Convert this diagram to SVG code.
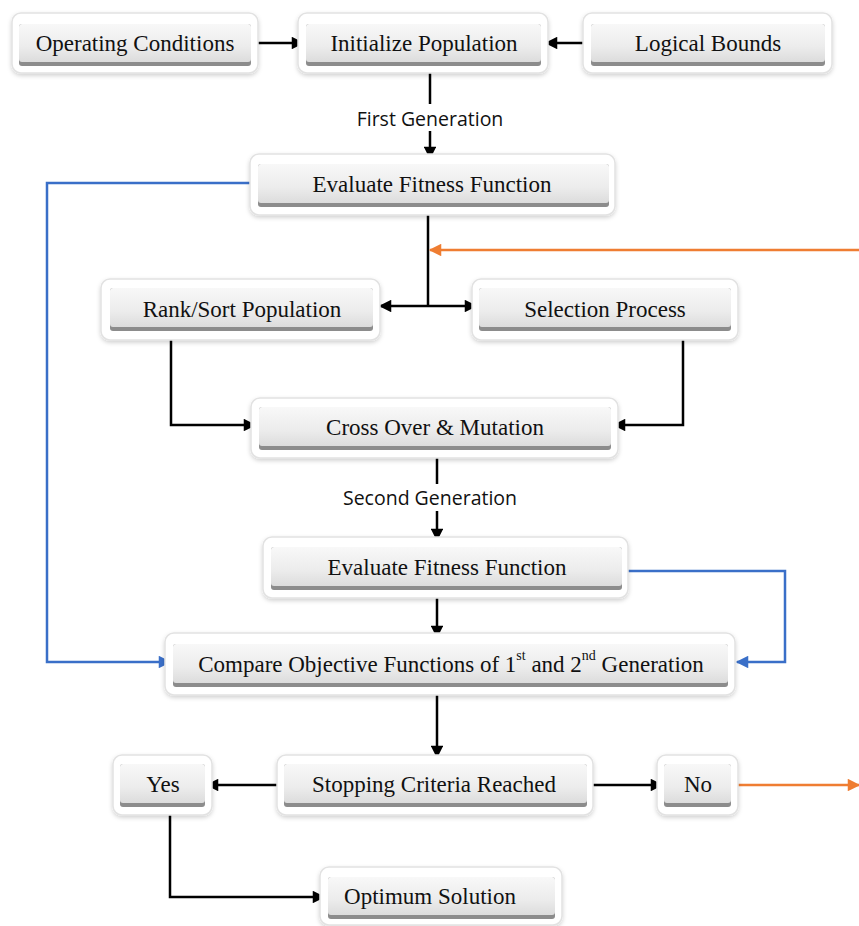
<svg xmlns="http://www.w3.org/2000/svg" width="859" height="926" viewBox="0 0 859 926">
<style>
.frame{fill:#fff;stroke:#e2e2e2;stroke-width:1.5;filter:url(#fs)}
.base{fill:#8c8c8c}
.btn{fill:url(#g)}
.t{font-family:"Liberation Serif","Times New Roman",serif;font-size:23px;fill:#111;text-anchor:middle;dominant-baseline:central}
.lab{font-family:"Open Sans","Liberation Sans",sans-serif;font-size:19.5px;fill:#111;text-anchor:middle;dominant-baseline:central}
.k{fill:none;stroke:#000;stroke-width:2.5;marker-end:url(#ak)}
.kn{fill:none;stroke:#000;stroke-width:2.5}
.b{fill:none;stroke:#3a6fc8;stroke-width:2.5;marker-end:url(#ab)}
.o{fill:none;stroke:#ef7d32;stroke-width:2.5;marker-end:url(#ao)}
</style>
<defs>
<linearGradient id="g" x1="0" y1="0" x2="0" y2="1">
<stop offset="0" stop-color="#f8f8f8"/>
<stop offset="0.6" stop-color="#ececec"/>
<stop offset="1" stop-color="#dcdcdc"/>
</linearGradient>
<filter id="fs" x="-10%" y="-20%" width="120%" height="150%">
<feDropShadow dx="0" dy="2" stdDeviation="2" flood-color="#000" flood-opacity="0.18"/>
</filter>
<marker id="ak" viewBox="0 0 10 10" refX="9" refY="5" markerWidth="5.5" markerHeight="5" orient="auto" markerUnits="strokeWidth"><path d="M0,0 L10,5 L0,10 z" fill="#000"/></marker>
<marker id="ab" viewBox="0 0 10 10" refX="9" refY="5" markerWidth="5.5" markerHeight="5" orient="auto" markerUnits="strokeWidth"><path d="M0,0 L10,5 L0,10 z" fill="#3a6fc8"/></marker>
<marker id="ao" viewBox="0 0 10 10" refX="9" refY="5" markerWidth="5.5" markerHeight="5" orient="auto" markerUnits="strokeWidth"><path d="M0,0 L10,5 L0,10 z" fill="#ef7d32"/></marker>
</defs>
<rect width="859" height="926" fill="#fff"/>

<g id="connectors">
<path class="k" d="M256,43 H303"/>
<path class="k" d="M588,43 H546"/>
<path class="kn" d="M430,70 V104"/>
<path class="k" d="M430,131 V158"/>
<path class="b" d="M258,183 H47 V662 H170"/>
<path class="kn" d="M428,210 V306"/>
<path class="k" d="M428,306 H380"/>
<path class="k" d="M428,306 H476"/>
<path class="o" d="M859,250 H430"/>
<path class="k" d="M171,336 V425 H255"/>
<path class="k" d="M683,338 V425 H614"/>
<path class="kn" d="M437,455 V484"/>
<path class="k" d="M437,511 V540"/>
<path class="b" d="M626,571 H785 V662 H737"/>
<path class="k" d="M437,596 V637"/>
<path class="k" d="M437,691 V757"/>
<path class="k" d="M281,785 H207"/>
<path class="k" d="M589,785 H662"/>
<path class="o" d="M736,785 H859"/>
<path class="k" d="M170,812 V897 H324"/>
</g>
<text class="lab" x="430" y="118">First Generation</text>
<text class="lab" x="430" y="497">Second Generation</text>

<g id="n-operating">
<rect class="frame" x="12" y="13" width="246" height="60" rx="9"/>
<rect class="base" x="19" y="24" width="232" height="42" rx="3"/>
<rect class="btn" x="19" y="24" width="232" height="38" rx="3"/>
<text class="t" x="135" y="43">Operating Conditions</text>
</g>
<g id="n-init">
<rect class="frame" x="298" y="13" width="250" height="60" rx="9"/>
<rect class="base" x="306" y="24" width="235" height="42" rx="3"/>
<rect class="btn" x="306" y="24" width="235" height="38" rx="3"/>
<text class="t" x="424" y="43">Initialize Population</text>
</g>
<g id="n-bounds">
<rect class="frame" x="583" y="13" width="249" height="60" rx="9"/>
<rect class="base" x="591" y="24" width="234" height="42" rx="3"/>
<rect class="btn" x="591" y="24" width="234" height="38" rx="3"/>
<text class="t" x="708" y="43">Logical Bounds</text>
</g>
<g id="n-eval1">
<rect class="frame" x="250" y="154" width="365" height="61" rx="9"/>
<rect class="base" x="258" y="164" width="351" height="43" rx="3"/>
<rect class="btn" x="258" y="164" width="351" height="39" rx="3"/>
<text class="t" x="432" y="184">Evaluate Fitness Function</text>
</g>
<g id="n-rank">
<rect class="frame" x="101" y="279" width="279" height="61" rx="9"/>
<rect class="base" x="110" y="288" width="263" height="43" rx="3"/>
<rect class="btn" x="110" y="288" width="263" height="39" rx="3"/>
<text class="t" x="242" y="309">Rank/Sort Population</text>
</g>
<g id="n-select">
<rect class="frame" x="472" y="279" width="266" height="61" rx="9"/>
<rect class="base" x="479" y="288" width="252" height="43" rx="3"/>
<rect class="btn" x="479" y="288" width="252" height="39" rx="3"/>
<text class="t" x="605" y="309">Selection Process</text>
</g>
<g id="n-cross">
<rect class="frame" x="251" y="398" width="367" height="60" rx="9"/>
<rect class="base" x="259" y="407" width="352" height="43" rx="3"/>
<rect class="btn" x="259" y="407" width="352" height="39" rx="3"/>
<text class="t" x="435" y="427">Cross Over &amp; Mutation</text>
</g>
<g id="n-eval2">
<rect class="frame" x="263" y="537" width="365" height="61" rx="9"/>
<rect class="base" x="271" y="547" width="351" height="43" rx="3"/>
<rect class="btn" x="271" y="547" width="351" height="39" rx="3"/>
<text class="t" x="447" y="567">Evaluate Fitness Function</text>
</g>
<g id="n-compare">
<rect class="frame" x="165" y="633" width="570" height="62" rx="9"/>
<rect class="base" x="173" y="644" width="555" height="43" rx="3"/>
<rect class="btn" x="173" y="644" width="555" height="39" rx="3"/>
<text class="t" x="451" y="664">Compare Objective Functions of 1<tspan font-size="14" dy="-9">st</tspan><tspan dy="9"> and 2</tspan><tspan font-size="14" dy="-9">nd</tspan><tspan dy="9"> Generation</tspan></text>
</g>
<g id="n-stop">
<rect class="frame" x="277" y="755" width="316" height="60" rx="9"/>
<rect class="base" x="284" y="764" width="303" height="43" rx="3"/>
<rect class="btn" x="284" y="764" width="303" height="39" rx="3"/>
<text class="t" x="434" y="784">Stopping Criteria Reached</text>
</g>
<g id="n-yes">
<rect class="frame" x="113" y="755" width="99" height="60" rx="9"/>
<rect class="base" x="120" y="764" width="85" height="43" rx="3"/>
<rect class="btn" x="120" y="764" width="85" height="39" rx="3"/>
<text class="t" x="163" y="784">Yes</text>
</g>
<g id="n-no">
<rect class="frame" x="657" y="755" width="81" height="60" rx="9"/>
<rect class="base" x="664" y="764" width="67" height="43" rx="3"/>
<rect class="btn" x="664" y="764" width="67" height="39" rx="3"/>
<text class="t" x="698" y="784">No</text>
</g>
<g id="n-optimum">
<rect class="frame" x="320" y="867" width="242" height="58" rx="9"/>
<rect class="base" x="328" y="877" width="227" height="42" rx="3"/>
<rect class="btn" x="328" y="877" width="227" height="38" rx="3"/>
<text class="t" x="430" y="896">Optimum Solution</text>
</g>
</svg>
